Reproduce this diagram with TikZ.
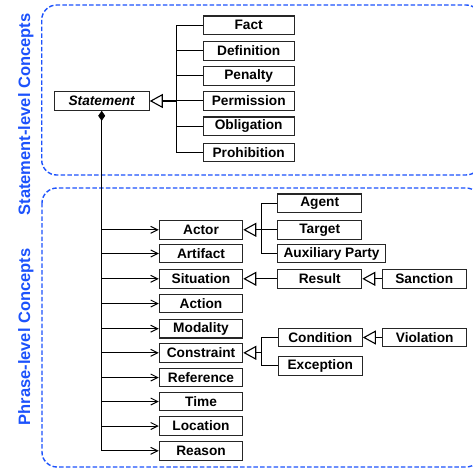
\documentclass[tikz,border=0pt]{standalone}
\usepackage{fontspec}
\setmainfont{Liberation Sans}
\usetikzlibrary{arrows.meta}
\definecolor{lblue}{RGB}{28,82,252}
\begin{document}
\begin{tikzpicture}[x=1pt,y=-1pt,
  box/.style={draw=black!85, line width=1.1pt, minimum height=18.5pt, inner sep=0pt,
    font=\fontsize{13.7}{16}\selectfont\bfseries},
  topbox/.style={box, minimum width=91pt},
  phbox/.style={box, minimum width=83.4pt},
  subbox/.style={box, minimum width=84pt},
  gen/.style={-{Triangle[open,length=13pt,width=14pt]}, line width=1.1pt},
  link/.style={line width=1pt},
  assoc/.style={-{Straight Barb[length=7pt,width=7pt]}, line width=1pt},
  frame/.style={draw=lblue, line width=1.4pt, dash pattern=on 4.5pt off 2.2pt, rounded corners=15pt},
  grp/.style={text=lblue, rotate=90, anchor=base, font=\fontsize{16.5}{19}\selectfont\bfseries}
]
\useasboundingbox (0,0) rectangle (473,470);

% frames
\draw[frame] (41.7,5) rectangle (481,175);
\draw[frame] (42,188) rectangle (481,467);
\node[grp] (lblS) at (30,114.5) {Statement-level Concepts};
\node[grp] (lblP) at (30,337) {Phrase-level Concepts};

% statement level
\node[box, minimum width=95pt] (stmt) at (101.7,101) {\itshape Statement};
\node[topbox] (fact) at (248.7,25.3) {Fact};
\node[topbox] (def)  at (248.7,51) {Definition};
\node[topbox] (pen)  at (248.7,76) {Penalty};
\node[topbox] (perm) at (248.7,101) {Permission};
\node[topbox] (obl)  at (248.7,126.3) {Obligation};
\node[topbox] (proh) at (248.7,152.6) {Prohibition};

\coordinate (hubS) at (176,101);
\draw[gen] (hubS) -- (stmt.east);
\draw[line width=2pt] (hubS) -- ([xshift=13pt]stmt.east);
\draw[link] (hubS |- fact.west) -- (hubS |- proh.west);
\foreach \n in {fact,def,pen,perm,obl,proh}{
  \draw[link] (hubS |- \n.west) -- (\n.west);
}

% phrase level
\node[phbox] (actor) at (201,229.8) {Actor};
\node[phbox] (artifact) at (201,253.5) {Artifact};
\node[phbox] (situation) at (201,278.8) {Situation};
\node[phbox] (action) at (201,303.5) {Action};
\node[phbox] (modality) at (201,328.7) {Modality};
\node[phbox] (constraint) at (201,352.8) {Constraint};
\node[phbox] (reference) at (201,377.5) {Reference};
\node[phbox] (time) at (201,401.5) {Time};
\node[phbox] (location) at (201,426) {Location};
\node[phbox] (reason) at (201,450.8) {Reason};

\draw[link, {Diamond[length=10pt,width=7pt]}-] (stmt.south) -- (stmt.south |- reason.west);
\foreach \n in {actor,artifact,situation,action,modality,constraint,reference,time,location,reason}{
  \draw[assoc] (stmt.south |- \n.west) -- (\n.west);
}

\node[subbox] (agent) at (319.7,203.3) {Agent};
\node[subbox] (target) at (319.7,229.8) {Target};
\node[box, minimum width=107.6pt] (aux) at (331.5,253.5) {Auxiliary Party};
\node[subbox] (result) at (319.7,278.8) {Result};
\node[subbox] (sanction) at (424.2,278.8) {Sanction};
\node[subbox] (condition) at (320.3,337.5) {Condition};
\node[subbox] (exception) at (320.3,365.8) {Exception};
\node[subbox] (violation) at (424.7,337.5) {Violation};

\coordinate (hubA) at (261,229.8);
\draw[gen] (hubA) -- (actor.east);
\draw[link] (hubA |- agent.west) -- (hubA |- aux.west);
\foreach \n in {agent,target,aux}{
  \draw[link] (hubA |- \n.west) -- (\n.west);
}

\draw[gen] (result.west) -- (situation.east);
\draw[gen] (sanction.west) -- (result.east);

\coordinate (hubC) at (261,352.8);
\draw[gen] (hubC) -- (constraint.east);
\draw[link] (hubC |- condition.west) -- (hubC |- exception.west);
\foreach \n in {condition,exception}{
  \draw[link] (hubC |- \n.west) -- (\n.west);
}
\draw[gen] (violation.west) -- (condition.east);
\end{tikzpicture}
\end{document}
